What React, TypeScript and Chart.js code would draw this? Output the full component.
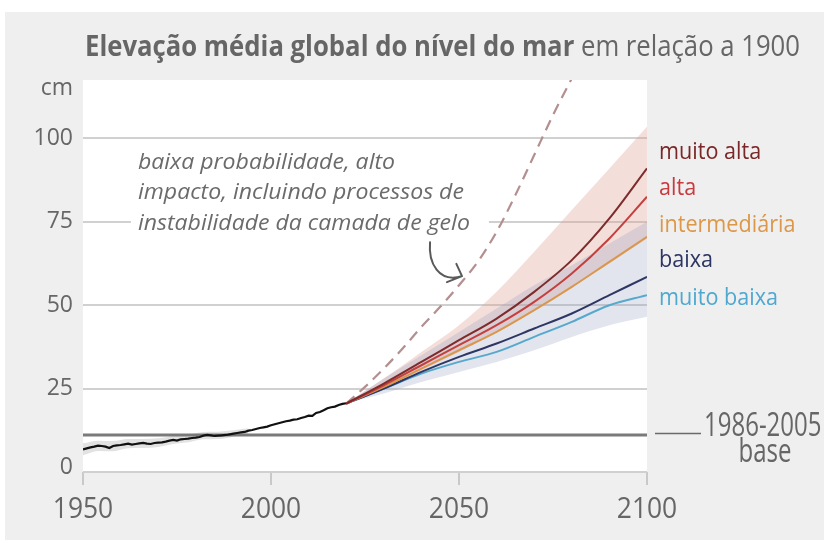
import { useEffect, useRef } from 'react';
import { Chart, registerables } from 'chart.js';

Chart.register(...registerables);

// Observed global mean sea level (cm, relative to 1900), yearly from 1950 to 2020
const histStartYear = 1950;
const histLevel = [
  6.8, 7.1, 7.4, 7.6, 7.9, 7.8, 7.6, 7.2, 7.8, 8.0,
  8.1, 8.3, 8.5, 8.2, 8.4, 8.6, 8.7, 8.5, 8.4, 8.7,
  8.8, 8.9, 9.1, 9.4, 9.6, 9.4, 9.8, 9.9, 10.0, 10.2,
  10.3, 10.5, 10.9, 11.1, 11.0, 10.8, 10.9, 11.0, 11.1, 11.3,
  11.5, 11.7, 11.9, 12.0, 12.4, 12.6, 12.9, 13.2, 13.4, 13.6,
  14.0, 14.3, 14.6, 14.9, 15.2, 15.4, 15.7, 15.8, 16.2, 16.5,
  16.9, 16.8, 17.7, 18.0, 18.5, 19.1, 19.4, 19.6, 20.1, 20.4,
  20.6,
];
const histYears = histLevel.map((_, i) => histStartYear + i);

// Uncertainty of the early reconstruction
const histBandYears = [1950, 1954, 1958, 1962, 1966, 1970, 1974, 1978, 1982, 1986, 1990, 1994];
const histBandUpper = [8.6, 9.4, 9.3, 9.9, 9.9, 10.1, 10.8, 11.2, 12.0, 12.1, 12.5, 13.1];
const histBandLower = [5.0, 6.3, 6.2, 7.1, 7.2, 7.5, 8.4, 8.9, 9.8, 9.9, 10.6, 11.6];

// Projections per emissions scenario
const projYears = [2020, 2030, 2040, 2050, 2060, 2070, 2080, 2090, 2100];
const veryHigh = [20.5, 26.5, 33, 39.5, 46, 54, 63.5, 76, 91];
const high = [20.5, 26, 32, 38, 44, 51, 59.5, 70, 82.5];
const intermediate = [20.5, 25.5, 31, 36.5, 42, 48.5, 55.5, 63, 70.5];
const low = [20.5, 25, 30, 34.5, 38.5, 43, 47.5, 53, 58.5];
const veryLow = [20.5, 25, 29.5, 33, 36, 40.5, 45, 50, 53];

// Likely ranges: high-emissions and low-emissions groups
const highRangeUpper = [20.5, 28, 36, 44, 54, 66, 78.5, 91, 103.5];
const highRangeLower = [20.5, 25, 30.5, 36, 42, 48.5, 55.5, 62.5, 70];
const lowRangeUpper = [20.5, 28, 35, 42, 49, 56, 62, 68.5, 75];
const lowRangeLower = [20.5, 23.5, 27, 30, 33, 36.5, 40.5, 44, 46.5];

// Low-likelihood, high-impact storyline (ice-sheet instability)
const iceYears = [2020, 2025, 2030, 2035, 2040, 2045, 2050, 2055, 2060, 2065, 2070, 2075, 2080];
const iceLevel = [20.5, 25.5, 31, 37, 43.5, 49.5, 56, 63, 72, 83, 95, 107, 118];

// 1986-2005 reference level
const baseYears = [1950, 2100];
const baseLevel = [11.1, 11.1];

const scenarioLabels = ['muito alta', 'alta', 'intermediária', 'baixa', 'muito baixa'];
const scenarioColors = ['#7d2b2b', '#c4403f', '#da974c', '#2e3764', '#56a9cd'];
const scenarioLabelColors = ['#7a2727', '#c93a3e', '#dc9748', '#2c3563', '#4ea8d0'];
const yTicks = [0, 25, 50, 75, 100];
const xTicks = [1950, 2000, 2050, 2100];

const titleBold = 'Elevação média global do nível do mar';
const titleRest = ' em relação a 1900';
const noteLines = ['baixa probabilidade, alto', 'impacto, incluindo processos de', 'instabilidade da camada de gelo'];

const FONT = '"Open Sans", "DejaVu Sans", sans-serif';
const GREY_TEXT = '#666666';

const pts = (xs: number[], ys: number[]) => xs.map((x, i) => ({ x, y: ys[i] }));

function drawText(
  ctx: CanvasRenderingContext2D,
  text: string,
  x: number,
  y: number,
  font: string,
  color: string,
  align: CanvasTextAlign = 'left',
  sx = 1,
  baseline: CanvasTextBaseline = 'alphabetic'
) {
  ctx.save();
  ctx.font = font;
  ctx.fillStyle = color;
  ctx.textAlign = align;
  ctx.textBaseline = baseline;
  ctx.translate(x, y);
  ctx.scale(sx, 1);
  ctx.fillText(text, 0, 0);
  ctx.restore();
}

const decorPlugin = {
  id: 'decor',
  beforeDraw(chart: any) {
    const { ctx, chartArea: a, width, height } = chart;
    ctx.save();
    ctx.fillStyle = '#ffffff';
    ctx.fillRect(0, 0, width, height);
    ctx.fillStyle = '#efefef';
    ctx.fillRect(5, 12, width - 5, height - 12);
    ctx.fillStyle = '#ffffff';
    ctx.fillRect(a.left, a.top, a.right - a.left, a.bottom - a.top);
    ctx.restore();
  },
  beforeDatasetsDraw(chart: any) {
    const { ctx } = chart;
    const xs = chart.scales.x;
    const ys = chart.scales.y;
    const noteFont = `italic 22px ${FONT}`;
    ctx.save();
    ctx.font = noteFont;
    const w3 = ctx.measureText(noteLines[2]).width;
    const sx = 332 / w3;
    const left = xs.getPixelForValue(1964.6);
    const baselines = [90.9, 81.7, 72.6].map((v) => ys.getPixelForValue(v));
    let maxW = 0;
    noteLines.forEach((t) => (maxW = Math.max(maxW, ctx.measureText(t).width * sx)));
    ctx.fillStyle = '#ffffff';
    ctx.fillRect(left - 7, baselines[0] - 22, maxW + 26, baselines[2] - baselines[0] + 32);
    ctx.restore();
    noteLines.forEach((t, i) => drawText(ctx, t, left, baselines[i], noteFont, '#6b6b6b', 'left', sx));

    // curved pointer towards the dashed storyline
    const P = (yr: number, cm: number) => [xs.getPixelForValue(yr), ys.getPixelForValue(cm)];
    const [sX, sY] = P(2042.3, 68.9);
    const [c1x, c1y] = P(2041.8, 62.6);
    const [c2x, c2y] = P(2044.6, 56.6);
    const [tX, tY] = P(2050.8, 58.7);
    const [h1x, h1y] = P(2049.3, 62.4);
    const [h2x, h2y] = P(2046.8, 56.9);
    ctx.save();
    ctx.strokeStyle = '#5a5a5a';
    ctx.lineWidth = 2;
    ctx.lineCap = 'round';
    ctx.lineJoin = 'round';
    ctx.beginPath();
    ctx.moveTo(sX, sY);
    ctx.bezierCurveTo(c1x, c1y, c2x, c2y, tX, tY);
    ctx.moveTo(h1x, h1y);
    ctx.lineTo(tX, tY);
    ctx.lineTo(h2x, h2y);
    ctx.stroke();
    ctx.restore();
  },
  afterDraw(chart: any) {
    const { ctx, chartArea: a } = chart;
    const xs = chart.scales.x;
    const ys = chart.scales.y;

    // title: bold lead followed by regular text
    const fb = `bold 29px ${FONT}`;
    const fr = `29px ${FONT}`;
    ctx.save();
    ctx.font = fb;
    const wB = ctx.measureText(titleBold).width;
    ctx.font = fr;
    const wR = ctx.measureText(titleRest).width;
    ctx.restore();
    const tsx = 715 / (wB + wR);
    drawText(ctx, titleBold, 85, 56, fb, GREY_TEXT, 'left', tsx);
    drawText(ctx, titleRest, 85 + wB * tsx, 56, fr, GREY_TEXT, 'left', tsx);

    // y-axis labels
    const yf = `23px ${FONT}`;
    yTicks.forEach((v) => {
      const py = Math.min(ys.getPixelForValue(v), a.bottom - 5);
      drawText(ctx, String(v), a.left - 10, py, yf, GREY_TEXT, 'right', 1, 'middle');
    });
    drawText(ctx, 'cm', a.left - 10, a.top + 8, yf, GREY_TEXT, 'right', 1, 'middle');

    // x-axis labels
    const xf = `30px ${FONT}`;
    xTicks.forEach((v) => {
      drawText(ctx, String(v), xs.getPixelForValue(v), a.bottom + 46, xf, GREY_TEXT, 'center', 0.88);
    });

    // scenario labels
    const lf = `24px ${FONT}`;
    const labelBase = [158.5, 194.5, 231.5, 266.5, 305];
    scenarioLabels.forEach((t, i) => {
      drawText(ctx, t, a.right + 12, labelBase[i], lf, scenarioLabelColors[i], 'left', 0.9);
    });

    // reference period key
    const bp = ys.getPixelForValue(baseLevel[0]);
    ctx.save();
    ctx.strokeStyle = '#6a6a6a';
    ctx.lineWidth = 1.5;
    ctx.beginPath();
    ctx.moveTo(a.right + 8, bp - 1.5);
    ctx.lineTo(a.right + 54, bp - 1.5);
    ctx.stroke();
    ctx.restore();
    const bf = `32px ${FONT}`;
    drawText(ctx, '1986-2005', a.right + 57, bp + 1, bf, GREY_TEXT, 'left', 0.75);
    drawText(ctx, 'base', a.right + 118, bp + 27, bf, GREY_TEXT, 'center', 0.75);
  },
};

const line = (data: any, color: string, width: number, order: number, extra: any = {}) => ({
  data,
  borderColor: color,
  borderWidth: width,
  pointRadius: 0,
  fill: false,
  order,
  ...extra,
});

const smooth = { cubicInterpolationMode: 'monotone' };

export default function App() {
  const ref = useRef<HTMLCanvasElement>(null);

  useEffect(() => {
    document.body.style.margin = '0';
    const datasets: any[] = [
      line(pts(projYears, veryHigh), scenarioColors[0], 2, 1, smooth),
      line(pts(projYears, high), scenarioColors[1], 2, 1, smooth),
      line(pts(projYears, intermediate), scenarioColors[2], 2, 1, smooth),
      line(pts(projYears, low), scenarioColors[3], 2, 1, smooth),
      line(pts(projYears, veryLow), scenarioColors[4], 2, 1, smooth),
      line(pts(iceYears, iceLevel), '#b38f90', 2.2, 1, { ...smooth, borderDash: [11, 7] }),
      line(pts(histYears, histLevel), '#111111', 2.2, 1),
      line(pts(baseYears, baseLevel), '#7a7a7a', 3, 2),
      line(pts(projYears, lowRangeUpper), 'rgba(0,0,0,0)', 0, 4, {
        ...smooth,
        fill: { target: 9 },
        backgroundColor: 'rgba(150,160,195,0.28)',
      }),
      line(pts(projYears, lowRangeLower), 'rgba(0,0,0,0)', 0, 4, smooth),
      line(pts(projYears, highRangeUpper), 'rgba(0,0,0,0)', 0, 5, {
        ...smooth,
        fill: { target: 11 },
        backgroundColor: 'rgba(222,160,150,0.35)',
      }),
      line(pts(projYears, highRangeLower), 'rgba(0,0,0,0)', 0, 5, smooth),
      line(pts(histBandYears, histBandUpper), 'rgba(0,0,0,0)', 0, 6, {
        ...smooth,
        fill: { target: 13 },
        backgroundColor: '#e2e2e2',
      }),
      line(pts(histBandYears, histBandLower), 'rgba(0,0,0,0)', 0, 6, smooth),
    ];

    const chart = new Chart(ref.current as HTMLCanvasElement, {
      type: 'line',
      data: { datasets },
      options: {
        animation: false,
        responsive: false,
        devicePixelRatio: 1,
        layout: { padding: { left: 83, right: 177, top: 80, bottom: 55 } },
        plugins: { legend: { display: false }, tooltip: { enabled: false }, title: { display: false } },
        scales: {
          x: {
            type: 'linear',
            min: xTicks[0],
            max: xTicks[xTicks.length - 1],
            ticks: { display: false, stepSize: 50 },
            grid: { drawOnChartArea: false, drawTicks: true, tickLength: 13, color: '#c9c9c9', lineWidth: 2 },
            border: { display: false },
          },
          y: {
            type: 'linear',
            min: 0,
            max: 117.5,
            ticks: { display: false, stepSize: 25, includeBounds: false },
            grid: { drawTicks: false, color: '#d0d0d0', lineWidth: 2 },
            border: { display: false },
          },
        },
      },
      plugins: [decorPlugin],
    } as any);

    const fonts = (document as any).fonts;
    if (fonts && fonts.load) {
      Promise.all([
        fonts.load(`22px "Open Sans"`),
        fonts.load(`bold 22px "Open Sans"`),
        fonts.load(`italic 22px "Open Sans"`),
      ]).then(() => chart.draw()).catch(() => {});
    }
    return () => chart.destroy();
  }, []);

  return <canvas ref={ref} width={824} height={540} style={{ display: 'block' }} />;
}
